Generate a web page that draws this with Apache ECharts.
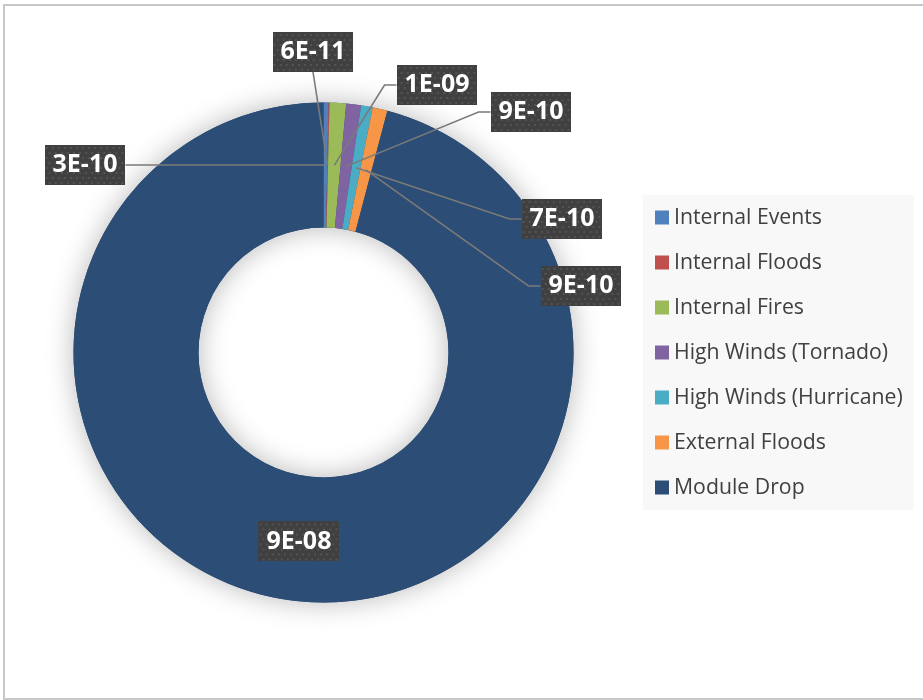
<!DOCTYPE html>
<html>
<head>
<meta charset="utf-8">
<script src="https://cdn.jsdelivr.net/npm/echarts@6/dist/echarts.min.js"></script>
<style>
  html, body { margin: 0; padding: 0; background: #ffffff; }
  #chart { width: 923px; height: 700px; }
</style>
</head>
<body>
<div id="chart"></div>
<script>
// ---- data ----
const categories = ['Internal Events', 'Internal Floods', 'Internal Fires', 'High Winds (Tornado)', 'High Winds (Hurricane)', 'External Floods', 'Module Drop'];
const values = [3e-10, 6e-11, 1e-9, 9e-10, 7e-10, 9e-10, 9e-8];
const colors = ['#4f81bd', '#c0504d', '#9bbb59', '#8064a2', '#4bacc6', '#f79646', '#2c4d75'];

// ---- layout (label box centres, pixels) ----
const labelCentres = [[85, 165], [313, 52], [437, 85], [531, 112], [562, 219], [581, 286], null];
const CX = 323.5, CY = 352.5, R0 = 125, R1 = 250;
const BOX_W = 80, BOX_H = 40;

function sci(v) {
  const parts = v.toExponential(0).split('e');
  const e = parseInt(parts[1], 10);
  return parts[0] + 'E' + (e < 0 ? '-' : '+') + String(Math.abs(e)).padStart(2, '0');
}

// dotted texture for label boxes
const tex = document.createElement('canvas');
tex.width = BOX_W; tex.height = BOX_H;
(function () {
  const c = tex.getContext('2d');
  c.fillStyle = '#404040';
  c.fillRect(0, 0, BOX_W, BOX_H);
  c.fillStyle = '#535353';
  for (let y = 2, row = 0; y < BOX_H; y += 5, row++) {
    for (let x = (row % 2 ? 4 : 1); x < BOX_W; x += 6) {
      c.fillRect(x, y, 2, 2);
    }
  }
})();

const chart = echarts.init(document.getElementById('chart'), null, { renderer: 'canvas' });

const labelBase = {
  show: true,
  formatter: p => sci(p.value),
  color: '#ffffff',
  fontFamily: 'Open Sans',
  fontWeight: 'bold',
  fontSize: 25,
  lineHeight: 24,
  overflow: 'none',
  padding: [8, 8],
  backgroundColor: { image: tex },
  shadowColor: 'rgba(0,0,0,0.45)',
  shadowBlur: 6,
  shadowOffsetX: 3,
  shadowOffsetY: 4
};

const baseData = categories.map((name, i) => ({ name: name, value: values[i], itemStyle: { color: colors[i] } }));
const labelData = categories.map((name, i) => {
  const d = { name: name, value: values[i] };
  if (i === categories.length - 1) {
    d.label = { position: 'inside' };
    d.labelLine = { show: false };
  }
  return d;
});

const option = {
  animation: false,
  backgroundColor: '#ffffff',
  graphic: [{
    type: 'rect',
    shape: { x: 4, y: 5, width: 960, height: 694 },
    style: { fill: null, stroke: '#c8c8c8', lineWidth: 2 },
    silent: true,
    z: 0
  }],
  legend: {
    data: categories,
    orient: 'vertical',
    left: 643,
    top: 195,
    backgroundColor: '#f8f8f8',
    padding: [12, 11, 12, 12],
    itemWidth: 14,
    itemHeight: 14,
    itemGap: 24,
    icon: 'rect',
    selectedMode: false,
    textStyle: { color: '#404040', fontFamily: 'Open Sans', fontSize: 21.25, lineHeight: 21 }
  },
  series: [
    {
      // soft shadow behind the ring
      type: 'pie',
      silent: true,
      center: [CX, CY],
      radius: [R0, R1],
      z: 1,
      label: { show: false },
      labelLine: { show: false },
      itemStyle: { color: '#2c4d75', shadowBlur: 28, shadowColor: 'rgba(0,0,0,0.28)' },
      data: [{ name: '_', value: 1 }]
    },
    {
      // coloured ring
      type: 'pie',
      z: 2,
      silent: true,
      center: [CX, CY],
      radius: [R0, R1],
      startAngle: 90,
      clockwise: true,
      emphasis: { disabled: true },
      label: { show: false },
      labelLine: { show: false },
      data: baseData
    },
    {
      // labels + leader lines, drawn above the ring
      type: 'pie',
      z: 3,
      silent: true,
      center: [CX, CY],
      radius: [R0, R1],
      startAngle: 90,
      clockwise: true,
      avoidLabelOverlap: false,
      minShowLabelAngle: 0,
      emphasis: { disabled: true },
      itemStyle: { color: 'rgba(0,0,0,0)' },
      label: Object.assign({ position: 'outside' }, labelBase),
      labelLine: { show: true, length: 10, length2: 10, lineStyle: { color: '#7a7a7a', width: 1.6 } },
      labelLayout: function (params) {
        const i = params.dataIndex;
        const c = labelCentres[i];
        if (!c) return {};
        const pts = params.labelLinePoints;
        let ang;
        if (pts && pts[0]) {
          ang = Math.atan2(pts[0][1] - CY, pts[0][0] - CX);
        } else {
          ang = -Math.PI / 2;
        }
        const rm = (R0 + R1) / 2;
        const anchor = [CX + rm * Math.cos(ang), CY + rm * Math.sin(ang)];
        const w = params.labelRect.width, h = params.labelRect.height;
        let line;
        if (c[0] < CX - 50) {
          const ex = c[0] + w / 2;
          line = [anchor, [(anchor[0] + ex) / 2, c[1]], [ex, c[1]]];
        } else if (i === 1) {
          const end = [c[0], c[1] + h / 2];
          line = [anchor, [(anchor[0] + end[0]) / 2, (anchor[1] + end[1]) / 2], end];
        } else {
          const ex = c[0] - w / 2;
          line = [anchor, [ex - 12, c[1]], [ex, c[1]]];
        }
        return {
          x: c[0],
          y: c[1],
          align: 'center',
          verticalAlign: 'middle',
          labelLinePoints: line
        };
      },
      data: labelData
    }
  ]
};

chart.setOption(option);
</script>
</body>
</html>
